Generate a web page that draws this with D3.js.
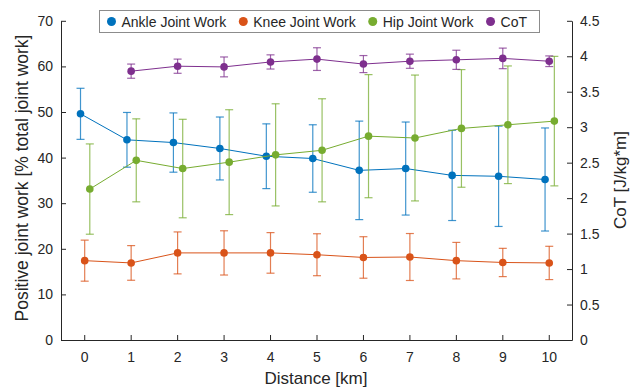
<!DOCTYPE html>
<html>
<head>
<meta charset="utf-8">
<script src="https://cdn.jsdelivr.net/npm/d3@7"></script>
<style>
  body { margin: 0; background: #fff; }
  svg { display: block; font-family: "Liberation Sans", Arial, sans-serif; }
</style>
</head>
<body>
<svg id="chart" width="635" height="388"></svg>
<script>
// values
const distance = [0, 1, 2, 3, 4, 5, 6, 7, 8, 9, 10];
const ankle   = [49.6, 43.9, 43.3, 42.0, 40.3, 39.8, 37.2, 37.6, 36.1, 35.9, 35.2];
const ankleSD = [5.6, 6.0, 6.5, 6.9, 7.1, 7.4, 10.8, 10.2, 9.9, 11.0, 11.3];
const knee    = [17.4, 16.9, 19.1, 19.1, 19.1, 18.7, 18.1, 18.2, 17.4, 17.0, 16.9];
const kneeSD  = [4.5, 3.8, 4.6, 4.85, 4.45, 4.6, 4.55, 5.15, 4.0, 3.1, 3.65];
const hip     = [33.1, 39.4, 37.6, 39.0, 40.6, 41.6, 44.7, 44.3, 46.4, 47.2, 48.0];
const hipSD   = [9.9, 9.1, 10.8, 11.5, 11.2, 11.3, 13.5, 13.8, 12.9, 12.9, 14.2];
const cotDistance = [1, 2, 3, 4, 5, 6, 7, 8, 9, 10];
const cot     = [3.79, 3.86, 3.85, 3.92, 3.96, 3.89, 3.93, 3.95, 3.97, 3.93];
const cotSD   = [0.10, 0.10, 0.14, 0.10, 0.16, 0.12, 0.10, 0.135, 0.145, 0.075];

const leftTicks = [0, 10, 20, 30, 40, 50, 60, 70];
const rightTicks = [0, 0.5, 1, 1.5, 2, 2.5, 3, 3.5, 4, 4.5];
const legendNames = ["Ankle Joint Work", "Knee Joint Work", "Hip Joint Work", "CoT"];

const svg = d3.select('#chart');

let x = d3.scaleLinear().domain([-0.5, 10.5]).range([61, 572]);
let yL = d3.scaleLinear().domain([0, 70]).range([340, 20.8]);
let yR = d3.scaleLinear().domain([0, 4.5]).range([340, 20.8]);

// series: x offset (in km) is only the small dodge used in the figure
let series = [
    {xs: distance, ys: ankle, sd: ankleSD, y: yL, color: '#0072BD', dx: -0.08},
    {xs: distance, ys: knee, sd: kneeSD, y: yL, color: '#D95319', dx: 0.01},
    {xs: distance, ys: hip, sd: hipSD, y: yL, color: '#77AC30', dx: 0.12},
    {xs: cotDistance, ys: cot, sd: cotSD, y: yR, color: '#7E2F8E', dx: 0.01}
];

function styleAxis(g) {
    g.select('.domain').attr('stroke', '#262626').attr('stroke-width', 1);
    g.selectAll('.tick line').attr('stroke', '#262626');
    g.selectAll('.tick text').attr('fill', '#262626').attr('font-size', 14);
    g.attr('font-family', null);
}

svg.append('g')
    .attr('transform', 'translate(0,340)')
    .call(d3.axisBottom(x).tickValues(distance).tickSizeInner(-5).tickSizeOuter(0).tickPadding(12))
    .call(styleAxis);

svg.append('g')
    .attr('transform', 'translate(61,0)')
    .call(d3.axisLeft(yL).tickValues(leftTicks).tickSizeInner(-5).tickSizeOuter(0).tickPadding(8))
    .call(styleAxis);

svg.append('g')
    .attr('transform', 'translate(572,0)')
    .call(d3.axisRight(yR).tickValues(rightTicks).tickFormat(d => String(d))
        .tickSizeInner(-5).tickSizeOuter(0).tickPadding(8))
    .call(styleAxis);

// axis titles
svg.append('text')
    .attr('x', 316).attr('y', 384)
    .attr('text-anchor', 'middle')
    .attr('font-size', 17)
    .attr('fill', '#262626')
    .text('Distance [km]');

svg.append('text')
    .attr('transform', 'translate(28,178) rotate(-90)')
    .attr('text-anchor', 'middle')
    .attr('font-size', 17.5)
    .attr('fill', '#262626')
    .text('Positive joint work [% total joint work]');

svg.append('text')
    .attr('transform', 'translate(626,180) rotate(-90)')
    .attr('text-anchor', 'middle')
    .attr('font-size', 17)
    .attr('fill', '#262626')
    .text('CoT [J/kg*m]');

// series
series.forEach(function(s) {
    let pts = s.xs.map(function(d, i) { return {x: d + s.dx, y: s.ys[i], sd: s.sd[i]}; });
    let g = svg.append('g');

    let line = d3.line()
        .x(function(d) { return x(d.x); })
        .y(function(d) { return s.y(d.y); });

    g.append('path')
        .attr('d', line(pts))
        .attr('stroke', s.color)
        .attr('stroke-width', 1)
        .attr('fill', 'none');

    let bars = g.selectAll('g.err').data(pts).enter()
        .append('g')
        .attr('class', 'err')
        .attr('stroke', s.color)
        .attr('stroke-opacity', 0.75)
        .attr('stroke-width', 1.2);

    bars.append('line')
        .attr('x1', function(d) { return x(d.x); })
        .attr('x2', function(d) { return x(d.x); })
        .attr('y1', function(d) { return s.y(d.y - d.sd); })
        .attr('y2', function(d) { return s.y(d.y + d.sd); });

    [-1, 1].forEach(function(sign) {
        bars.append('line')
            .attr('x1', function(d) { return x(d.x) - 4; })
            .attr('x2', function(d) { return x(d.x) + 4; })
            .attr('y1', function(d) { return s.y(d.y + sign * d.sd); })
            .attr('y2', function(d) { return s.y(d.y + sign * d.sd); });
    });

    g.selectAll('circle').data(pts).enter()
        .append('circle')
        .attr('cx', function(d) { return x(d.x); })
        .attr('cy', function(d) { return s.y(d.y); })
        .attr('r', 3.8)
        .attr('fill', s.color);
});

// legend
let legend = svg.append('g');
legend.append('rect')
    .attr('x', 99.5).attr('y', 10.5)
    .attr('width', 440).attr('height', 22)
    .attr('fill', '#fff')
    .attr('stroke', '#8c8c8c')
    .attr('stroke-width', 1);

let lx = 111.5;
legendNames.forEach(function(name, i) {
    legend.append('circle')
        .attr('cx', lx).attr('cy', 21.5)
        .attr('r', 4.5)
        .attr('fill', series[i].color);
    let t = legend.append('text')
        .attr('x', lx + 10).attr('y', 26.5)
        .attr('font-size', 14)
        .attr('fill', '#262626')
        .text(name);
    lx = lx + 10 + t.node().getComputedTextLength() + 17;
});
</script>
</body>
</html>
